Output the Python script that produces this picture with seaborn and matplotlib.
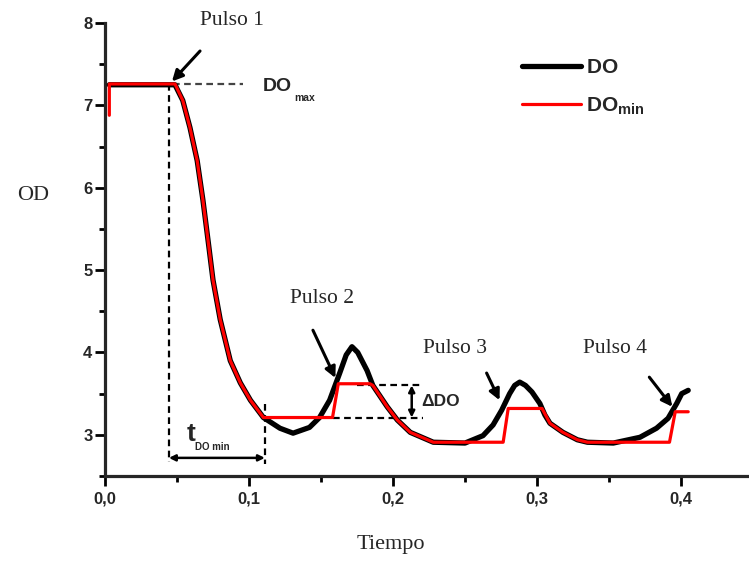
import matplotlib
matplotlib.use("Agg")
import matplotlib.pyplot as plt
import seaborn as sns
import pandas as pd

# Dissolved-oxygen trace (DO) and its running minimum setpoint (DO_min)
do_t = [0.003, 0.0486, 0.054, 0.059, 0.064, 0.068, 0.072, 0.075, 0.080, 0.087,
        0.094, 0.101, 0.110, 0.1215, 0.1306, 0.142, 0.149, 0.156, 0.163, 0.1675,
        0.1715, 0.1755, 0.182, 0.186, 0.196, 0.203, 0.212, 0.224, 0.228, 0.250,
        0.2625, 0.2695, 0.2755, 0.281, 0.2845, 0.288, 0.292, 0.2965, 0.302, 0.3055,
        0.309, 0.318, 0.328, 0.335, 0.353, 0.3715, 0.383, 0.391, 0.397, 0.4005,
        0.405]
do_val = [7.25, 7.25, 7.06, 6.73, 6.33, 5.85, 5.30, 4.88, 4.40, 3.90,
          3.63, 3.42, 3.21, 3.08, 3.02, 3.09, 3.21, 3.42, 3.75, 3.97,
          4.07, 4.00, 3.78, 3.60, 3.34, 3.18, 3.03, 2.94, 2.91, 2.90,
          2.99, 3.12, 3.30, 3.50, 3.60, 3.64, 3.60, 3.52, 3.38, 3.24,
          3.14, 3.03, 2.94, 2.91, 2.90, 2.97, 3.08, 3.20, 3.38, 3.50,
          3.54]

domin_t = [0.003, 0.003, 0.0486, 0.054, 0.059, 0.064, 0.068, 0.072, 0.075, 0.080,
           0.087, 0.094, 0.101, 0.110, 0.158, 0.162, 0.184, 0.186, 0.196, 0.203,
           0.212, 0.224, 0.228, 0.2765, 0.280, 0.3035, 0.309, 0.318, 0.328, 0.335,
           0.392, 0.396, 0.405]
domin_val = [6.88, 7.26, 7.26, 7.06, 6.73, 6.33, 5.85, 5.30, 4.88, 4.40,
             3.90, 3.63, 3.42, 3.21, 3.21, 3.62, 3.62, 3.60, 3.34, 3.18,
             3.03, 2.94, 2.91, 2.91, 3.32, 3.32, 3.14, 3.03, 2.94, 2.91,
             2.91, 3.28, 3.28]

x_ticks = [0.0, 0.1, 0.2, 0.3, 0.4]
x_tick_labels = ["0,0", "0,1", "0,2", "0,3", "0,4"]
x_minor = [0.05, 0.15, 0.25, 0.35]
y_ticks = [3, 4, 5, 6, 7, 8]
y_tick_labels = ["3", "4", "5", "6", "7", "8"]
y_minor = [2.5, 3.5, 4.5, 5.5, 6.5, 7.5]

# Reference levels used by the annotations
do_max = 7.26
t_start, t_min = 0.0444, 0.111
delta_hi, delta_lo = 3.60, 3.21

pulse_labels = ["Pulso 1", "Pulso 2", "Pulso 3", "Pulso 4"]
pulse_text_xy = [(0.088, 8.03), (0.1507, 4.66), (0.243, 4.05), (0.354, 4.05)]
pulse_arrow_from = [(0.066, 7.66), (0.1444, 4.27), (0.265, 3.75), (0.378, 3.70)]
pulse_arrow_to = [(0.0465, 7.29), (0.160, 3.69), (0.274, 3.42), (0.394, 3.34)]

sns.set_style("ticks")
plt.rcParams["font.family"] = ["Liberation Sans", "DejaVu Sans"]
plt.rcParams["mathtext.fontset"] = "custom"
plt.rcParams["mathtext.rm"] = "Liberation Sans:bold"
plt.rcParams["mathtext.bf"] = "Liberation Sans:bold"
plt.rcParams["mathtext.it"] = "Liberation Sans:bold"

fig = plt.figure(figsize=(7.49, 5.61), dpi=100)
ax = fig.add_axes([105 / 749, 1 - 476 / 561, 644 / 749, 453 / 561])

df_do = pd.DataFrame({"t": do_t, "v": do_val})
df_min = pd.DataFrame({"t": domin_t, "v": domin_val})
sns.lineplot(data=df_do, x="t", y="v", color="black", lw=3.8, sort=False,
             estimator=None, ax=ax, solid_capstyle="round",
             solid_joinstyle="round", zorder=3)
sns.lineplot(data=df_min, x="t", y="v", color="#ff0000", lw=2.3, sort=False,
             estimator=None, ax=ax, solid_joinstyle="round", zorder=4)

ax.set_xlim(0.0, 644 / 1440)
ax.set_ylim(2.5, 8.0)

# Axis styling
for side in ("top", "right"):
    ax.spines[side].set_visible(False)
for side in ("left", "bottom"):
    ax.spines[side].set_linewidth(2.3)
ax.set_xticks(x_ticks)
ax.set_xticklabels(x_tick_labels)
ax.set_xticks(x_minor, minor=True)
ax.set_yticks(y_ticks)
ax.set_yticklabels(y_tick_labels)
ax.set_yticks(y_minor, minor=True)
ax.tick_params(axis="both", which="major", length=7, width=2, direction="out",
               labelsize=12, color="black")
ax.tick_params(axis="x", which="major", pad=4)
ax.tick_params(axis="y", which="major", pad=2)
ax.tick_params(axis="both", which="minor", length=4, width=2, direction="out",
               color="black")
for lab in ax.get_xticklabels() + ax.get_yticklabels():
    lab.set_fontweight("bold")

serif = ["Liberation Serif", "DejaVu Serif"]
ax.set_xlabel("Tiempo", fontsize=16, family=serif)
ax.xaxis.label.set_va("center")
ax.xaxis.set_label_coords(286 / 644, (476 - 545) / 453)
ax.set_ylabel("OD", fontsize=16, family=serif, rotation=0)
ax.yaxis.label.set_va("center")
ax.yaxis.label.set_ha("center")
ax.yaxis.set_label_coords((33 - 105) / 644, (476 - 196) / 453)

# Legend
handles = ax.get_lines()[:2]
ax.legend(handles, [r"$\mathbf{DO}$", r"$\mathbf{DO}_{\mathbf{min}}$"],
          loc="upper left", bbox_to_anchor=(0.648, 0.923), frameon=False,
          fontsize=15, handlelength=2.8, handletextpad=0.25, labelspacing=0.89,
          borderpad=0, borderaxespad=0)

dash_kw = dict(color="black", lw=1.6, ls=(0, (3, 2)), zorder=2)
# DO_max reference
ax.plot([0.047, 0.096], [do_max, do_max], **{**dash_kw, "color": "#444444"})
ax.text(0.1097, 7.23, "DO", fontsize=14, fontweight="bold", va="center", ha="left")
ax.text(0.1317, 7.09, "max", fontsize=7.5, fontweight="bold", va="center", ha="left")

# t_DOmin interval
ax.plot([t_start, t_start], [do_max, 2.67], **dash_kw)
ax.plot([t_min, t_min], [3.38, 2.64], **dash_kw)
ax.annotate("", xy=(t_start, 2.72), xytext=(t_min, 2.72),
            arrowprops=dict(arrowstyle="<|-|>", lw=1.8, color="black",
                            mutation_scale=9, shrinkA=0, shrinkB=0))
ax.text(0.0565, 3.01, "t", fontsize=19, fontweight="bold", va="center", ha="left")
ax.text(0.0625, 2.85, "DO min", fontsize=7, fontweight="bold", va="center", ha="left")

# Delta DO bracket
ax.plot([0.175, 0.221], [delta_hi, delta_hi], **dash_kw)
ax.plot([0.158, 0.221], [delta_lo, delta_lo], **dash_kw)
ax.annotate("", xy=(0.213, delta_hi), xytext=(0.213, delta_lo),
            arrowprops=dict(arrowstyle="<|-|>", lw=1.8, color="black",
                            mutation_scale=9, shrinkA=0, shrinkB=0))
ax.text(0.2195, 3.40, "ΔDO", fontsize=12.5, fontweight="bold", va="center", ha="left")

# Pulse markers
for lab, txy, a0, a1 in zip(pulse_labels, pulse_text_xy, pulse_arrow_from, pulse_arrow_to):
    ax.text(txy[0], txy[1], lab, fontsize=15.5, family=serif, ha="center",
            va="center", clip_on=False)
    ax.annotate("", xy=a1, xytext=a0,
                arrowprops=dict(arrowstyle="-|>", lw=2.2, color="black",
                                mutation_scale=16, shrinkA=0, shrinkB=0),
                zorder=5)

fig.savefig("out.png", dpi=100)
